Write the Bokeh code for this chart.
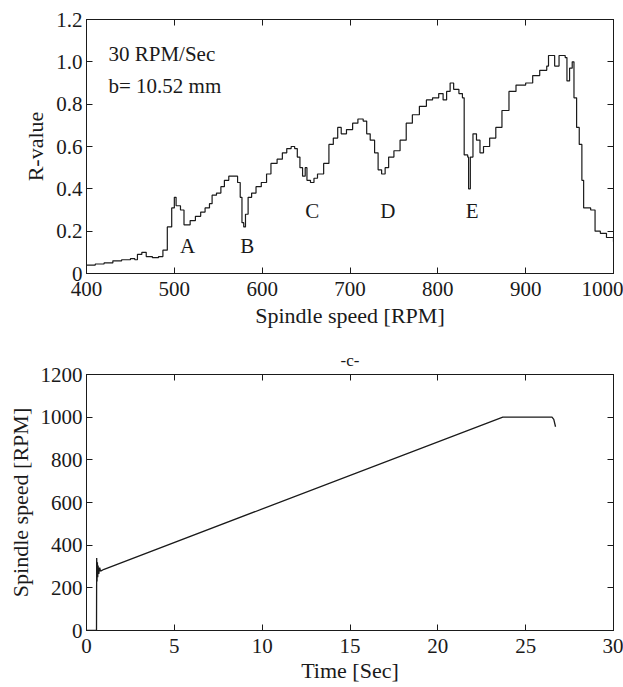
from bokeh.plotting import figure
from bokeh.layouts import column
from bokeh.models import FixedTicker, LinearAxis, Range1d, Label
from bokeh.embed import file_html
from bokeh.resources import INLINE

# ---- top chart: R-value vs spindle speed ----
rpm = [400, 410, 420, 430, 440, 450, 455, 458, 463, 468, 475, 482, 487, 492, 497, 500,
       502, 507, 511, 518, 524, 530, 535, 540, 543, 548, 553, 557, 562, 568, 572, 575,
       577, 579, 581, 584, 588, 593, 599, 605, 610, 617, 623, 628, 633, 637, 640, 643,
       646, 649, 651, 655, 659, 663, 670, 676, 681, 686, 690, 696, 703, 709, 715, 719,
       723, 728, 732, 736, 740, 744, 750, 757, 764, 771, 779, 787, 794, 801, 806, 810,
       814, 818, 824, 828, 830, 834, 835, 837, 840, 844, 848, 852, 859, 866, 873, 881,
       889, 900, 908, 916, 924, 926, 933, 938, 945, 947, 950, 953, 955, 958, 961, 964,
       966, 974, 979, 985, 992, 1000]
r_value = [0.04, 0.045, 0.05, 0.06, 0.065, 0.07, 0.065, 0.09, 0.10, 0.08, 0.075, 0.08, 0.11, 0.22, 0.31, 0.36,
           0.32, 0.30, 0.23, 0.25, 0.27, 0.29, 0.31, 0.33, 0.37, 0.38, 0.41, 0.44, 0.46, 0.46, 0.43, 0.36,
           0.24, 0.22, 0.28, 0.36, 0.38, 0.41, 0.43, 0.47, 0.52, 0.54, 0.57, 0.59, 0.60, 0.59, 0.55, 0.50,
           0.46, 0.50, 0.44, 0.43, 0.45, 0.47, 0.52, 0.61, 0.64, 0.69, 0.66, 0.68, 0.71, 0.73, 0.72, 0.66,
           0.63, 0.57, 0.49, 0.47, 0.50, 0.55, 0.58, 0.63, 0.71, 0.75, 0.79, 0.82, 0.83, 0.85, 0.82, 0.86,
           0.90, 0.87, 0.85, 0.83, 0.56, 0.55, 0.40, 0.55, 0.66, 0.63, 0.57, 0.60, 0.64, 0.69, 0.77, 0.86,
           0.89, 0.90, 0.935, 0.96, 0.98, 1.03, 0.98, 1.03, 1.02, 0.91, 0.97, 1.0, 0.83, 0.69, 0.61, 0.44,
           0.31, 0.30, 0.20, 0.19, 0.17, 0.15]
top_xticks = [400, 500, 600, 700, 800, 900, 1000]
top_yticks = [0, 0.2, 0.4, 0.6, 0.8, 1.0, 1.2]
top_ytick_labels = ["0", "0.2", "0.4", "0.6", "0.8", "1.0", "1.2"]
info_lines = ["30 RPM/Sec", "b= 10.52 mm"]
marker_letters = ["A", "B", "C", "D", "E"]
marker_rpm = [515, 583, 657, 743, 839]
marker_r = [0.128, 0.128, 0.293, 0.293, 0.293]

# ---- bottom chart: spindle speed vs time ----
time_s = [0, 0.55, 0.57, 0.58, 0.60, 0.62, 0.64, 0.66, 0.70, 0.75, 0.80, 1.0, 23.7, 26.5, 26.6, 26.7]
speed = [0, 0, 0, 340, 230, 320, 250, 305, 265, 295, 278, 287, 1000, 1000, 990, 955]
bot_xticks = [0, 5, 10, 15, 20, 25, 30]
bot_yticks = [0, 200, 400, 600, 800, 1000, 1200]

FONT = "Liberation Serif"
INK = "#1a1a1a"


def style_axis(ax, ticks, overrides=None, labels=True, standoff=8):
    ax.ticker = FixedTicker(ticks=ticks)
    ax.minor_tick_line_color = None
    ax.major_tick_in = 6
    ax.major_tick_out = 0
    ax.major_tick_line_color = INK
    ax.axis_line_color = INK
    ax.major_label_text_font = FONT
    ax.major_label_text_color = INK
    ax.major_label_text_font_size = "21px"
    ax.major_label_standoff = standoff
    ax.axis_label_text_font = FONT
    ax.axis_label_text_font_style = "normal"
    ax.axis_label_text_font_size = "22px"
    ax.axis_label_text_color = INK
    if not labels:
        ax.major_label_overrides = {t: "" for t in ticks}
        ax.major_label_standoff = 0
    elif overrides:
        ax.major_label_overrides = overrides


def make_fig(height, border_top, border_bottom, xr, yr):
    p = figure(width=623, height=height, output_backend="svg", toolbar_location=None,
               x_range=Range1d(*xr), y_range=Range1d(*yr),
               min_border_left=86, min_border_right=10,
               min_border_top=border_top, min_border_bottom=border_bottom)
    p.grid.visible = False
    p.outline_line_color = INK
    p.background_fill_color = "white"
    p.border_fill_color = "white"
    return p


# top figure
p1 = make_fig(340, 19, 67, (400, 1000), (0, 1.2))
p1.step(rpm, r_value, mode="after", line_color=INK, line_width=1.2)
style_axis(p1.xaxis[0], top_xticks, standoff=8)
style_axis(p1.yaxis[0], top_yticks,
           overrides={t: s for t, s in zip(top_yticks, top_ytick_labels)}, standoff=4)
p1.xaxis[0].axis_label = "Spindle speed [RPM]"
p1.xaxis[0].axis_label_standoff = 4
p1.yaxis[0].axis_label = "R-value"
p1.yaxis[0].axis_label_standoff = 5
ax_r = LinearAxis()
style_axis(ax_r, top_yticks, labels=False)
p1.add_layout(ax_r, "right")
ax_t = LinearAxis()
style_axis(ax_t, top_xticks, labels=False)
p1.add_layout(ax_t, "above")

for i, line in enumerate(info_lines):
    p1.add_layout(Label(x=425, y=1.039 - 0.151 * i, text=line, text_font=FONT,
                        text_font_size="21px", text_color=INK, text_baseline="middle"))
p1.text(x=marker_rpm, y=marker_r, text=marker_letters, text_font={"value": FONT},
        text_font_size="21px", text_color=INK, text_align="center", text_baseline="middle")

# bottom figure
p2 = make_fig(346, 34, 56, (0, 30), (0, 1200))
p2.line(time_s, speed, line_color=INK, line_width=1.3)
style_axis(p2.xaxis[0], bot_xticks, standoff=8)
style_axis(p2.yaxis[0], bot_yticks, standoff=4)
p2.xaxis[0].axis_label = "Time [Sec]"
p2.xaxis[0].axis_label_standoff = 2
p2.yaxis[0].axis_label = "Spindle speed [RPM]"
p2.yaxis[0].axis_label_standoff = 5
ax_r2 = LinearAxis()
style_axis(ax_r2, bot_yticks, labels=False)
p2.add_layout(ax_r2, "right")
ax_t2 = LinearAxis()
style_axis(ax_t2, bot_xticks, labels=False)
ax_t2.major_label_standoff = 10
p2.add_layout(ax_t2, "above")
p2.title.text = "-c-"
p2.title.align = "center"
p2.title.text_font = FONT
p2.title.text_font_style = "normal"
p2.title.text_font_size = "17px"
p2.title.text_color = INK

layout = column(p1, p2, spacing=0)
open("out.html", "w").write(file_html(layout, INLINE))
